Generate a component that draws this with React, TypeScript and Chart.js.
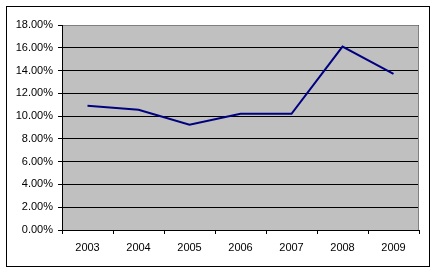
import React, { useEffect, useRef } from "react";
import { Chart, registerables } from "chart.js";

Chart.register(...registerables);

const years = ["2003", "2004", "2005", "2006", "2007", "2008", "2009"];
const rates = [10.9, 10.55, 9.25, 10.2, 10.2, 16.1, 13.7];

const framePlugin = {
  id: "frame",
  beforeDraw(chart: any) {
    const { ctx, chartArea } = chart;
    ctx.save();
    ctx.fillStyle = "#ffffff";
    ctx.fillRect(0, 0, chart.width, chart.height);
    ctx.strokeStyle = "#000000";
    ctx.lineWidth = 1;
    ctx.strokeRect(6.5, 6.5, 423, 260);
    ctx.fillStyle = "#C0C0C0";
    ctx.fillRect(chartArea.left, chartArea.top, chartArea.right - chartArea.left, chartArea.bottom - chartArea.top);
    ctx.restore();
  },
  afterDatasetsDraw(chart: any) {
    const { ctx, chartArea } = chart;
    ctx.save();
    ctx.strokeStyle = "#808080";
    ctx.lineWidth = 1;
    ctx.beginPath();
    const x = Math.round(chartArea.right) - 0.5;
    const y = Math.round(chartArea.top) + 0.5;
    ctx.moveTo(Math.round(chartArea.left) + 1, y);
    ctx.lineTo(x, y);
    ctx.lineTo(x, chartArea.bottom);
    ctx.stroke();
    ctx.restore();
  },
};

export default function App() {
  const ref = useRef<HTMLCanvasElement>(null);
  useEffect(() => {
    const chart = new Chart(ref.current!, {
      type: "line",
      data: {
        labels: years,
        datasets: [
          {
            data: rates,
            borderColor: "#000080",
            borderWidth: 2,
            pointRadius: 0,
            tension: 0,
            fill: false,
          },
        ],
      },
      plugins: [framePlugin],
      options: {
        responsive: false,
        animation: false,
        layout: { padding: { left: 0, top: 25, right: 16, bottom: 0 } },
        plugins: { legend: { display: false }, tooltip: { enabled: false } },
        scales: {
          x: {
            offset: true,
            grid: {
              offset: true,
              drawOnChartArea: false,
              drawTicks: true,
              tickLength: 4,
              color: "#000000",
            },
            border: { color: "#000000", width: 1 },
            ticks: {
              color: "#000000",
              font: { family: "Liberation Sans, Arial", size: 11 },
              padding: 7,
              maxRotation: 0,
            },
            afterFit(scale: any) {
              scale.height = 43;
            },
          },
          y: {
            min: 0,
            max: 18,
            grid: { color: "#000000", drawTicks: true, tickLength: 4 },
            border: { color: "#000000", width: 1 },
            ticks: {
              stepSize: 2,
              color: "#000000",
              padding: 5,
              font: { family: "Liberation Sans, Arial", size: 11 },
              callback: (v: any) => Number(v).toFixed(2) + "%",
            },
            afterFit(scale: any) {
              scale.width = 62;
            },
          },
        },
      },
    });
    return () => chart.destroy();
  }, []);
  return (
    <div style={{ position: "fixed", left: 0, top: 0, width: 435, height: 273 }}>
      <canvas ref={ref} width={435} height={273} style={{ display: "block" }} />
    </div>
  );
}
